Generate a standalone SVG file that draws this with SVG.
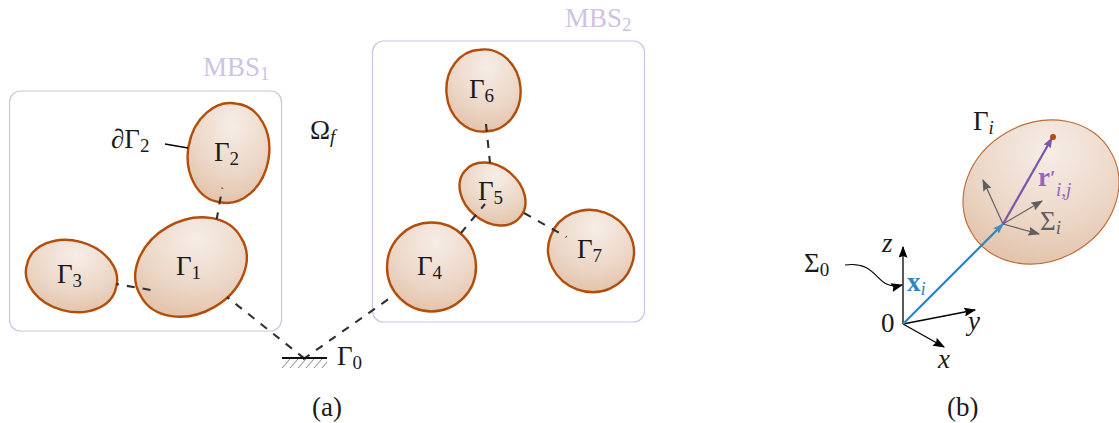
<svg xmlns="http://www.w3.org/2000/svg" width="1119" height="423" viewBox="0 0 1119 423">
<style>
text{font-family:"Liberation Serif","Times New Roman",serif;font-size:27px;fill:#1a1a1a}
.s{font-size:19px}
.i{font-style:italic}
.b{font-weight:bold}
.body{fill:url(#g);stroke:#b24d0a;stroke-width:2.4}
.box{fill:none;stroke:#cfc2e6;stroke-width:1.2}
.mbs{fill:#cfc2e6}
.d{fill:none;stroke:#2f2f2f;stroke-width:2.1;stroke-dasharray:8 8}
.k{stroke:#000;stroke-width:1.3;fill:none}
.gr{stroke:#5f5f5f;stroke-width:1.2;fill:none}
</style>
<defs>
<radialGradient id="g" cx="0.55" cy="0.22" r="0.8"><stop offset="0" stop-color="#f6ede7"/><stop offset="0.6" stop-color="#ecd7c7"/><stop offset="1" stop-color="#e3c3ab"/></radialGradient>
<marker id="ak" viewBox="0 0 10 10" refX="9" refY="5" markerWidth="12" markerHeight="9" markerUnits="userSpaceOnUse" orient="auto" preserveAspectRatio="none"><path d="M0 0L10 5L0 10L1.5 5Z" fill="#000"/></marker>
<marker id="ag" viewBox="0 0 10 10" refX="9" refY="5" markerWidth="12" markerHeight="9" markerUnits="userSpaceOnUse" orient="auto" preserveAspectRatio="none"><path d="M0 0L10 5L0 10L1.5 5Z" fill="#5f5f5f"/></marker>
<marker id="ab" viewBox="0 0 10 10" refX="9" refY="5" markerWidth="11" markerHeight="8" markerUnits="userSpaceOnUse" orient="auto" preserveAspectRatio="none"><path d="M0 0L10 5L0 10L1.5 5Z" fill="#3f8fc6"/></marker>
<marker id="ap" viewBox="0 0 10 10" refX="9" refY="5" markerWidth="11" markerHeight="8" markerUnits="userSpaceOnUse" orient="auto" preserveAspectRatio="none"><path d="M0 0L10 5L0 10L1.5 5Z" fill="#7d55a8"/></marker>
</defs>
<g id="mbs1"><rect class="box" x="9.5" y="91" width="272" height="240" rx="11"/><text class="mbs" x="203" y="76">MBS<tspan class="s mbs" dy="4">1</tspan></text></g>
<g id="mbs2"><rect class="box" x="372.5" y="41" width="272" height="281" rx="11"/><text class="mbs" x="565" y="27">MBS<tspan class="s mbs" dy="4">2</tspan></text></g>
<g id="gamma1"><path class="body" d="M140.8 296A58 45 -30 1 1 241.2 238A58 45 -30 1 1 140.8 296Z"/><text x="176" y="275">Γ<tspan class="s" dy="4">1</tspan></text></g>
<g id="gamma2"><path class="body" d="M219.8 202.2A50 39 -80 1 1 237.2 103.8A50 39 -80 1 1 219.8 202.2Z"/><text x="214" y="161">Γ<tspan class="s" dy="4">2</tspan></text></g>
<g id="gamma3"><path class="body" d="M27.1 264.1A46 34 15 1 1 115.9 287.9A46 34 15 1 1 27.1 264.1Z"/><text x="57" y="283">Γ<tspan class="s" dy="4">3</tspan></text></g>
<g id="gamma4"><circle class="body" cx="431.5" cy="267" r="44.5"/><text x="417" y="275">Γ<tspan class="s" dy="4">4</tspan></text></g>
<g id="gamma5"><path class="body" d="M464.9 170.9A36 27 40 1 1 520.1 217.1A36 27 40 1 1 464.9 170.9Z"/><text x="478" y="200">Γ<tspan class="s" dy="4">5</tspan></text></g>
<g id="gamma6"><path class="body" d="M479.9 49.7A41 35.5 85 1 1 487.1 131.3A41 35.5 85 1 1 479.9 49.7Z"/><text x="469" y="98">Γ<tspan class="s" dy="4">6</tspan></text></g>
<g id="gamma7"><path class="body" d="M550.6 236.3A43 40 20 1 1 631.4 265.7A43 40 20 1 1 550.6 236.3Z"/><text x="577" y="258">Γ<tspan class="s" dy="4">7</tspan></text></g>
<g id="connectors">
<path class="d" d="M222.3 187.7L216.7 219.3" stroke-dashoffset="7" style="stroke-dashoffset:7"/>
<path class="d" d="M116 284L151 290" style="stroke-dashoffset:5"/>
<path class="d" d="M227 297L305 359" style="stroke-dashoffset:5"/>
<path class="d" d="M303 359.4L390 298"/>
<path class="d" d="M486 124L490 163"/>
<path class="d" d="M485 204L461 233" style="stroke-dashoffset:2"/>
<path class="d" d="M524 213L566.5 237"/>
<path d="M165 144L188 148" stroke="#000" stroke-width="1.3"/>
</g>
<g id="ground"><path d="M282 358H327" stroke="#111" stroke-width="2.2"/><path d="M282 368L290 359M290 368L298 359M298 368L306 359M306 368L314 359M314 368L322 359M322 368L327 362" stroke="#888" stroke-width="1"/><text x="337" y="365">Γ<tspan class="s" dy="4">0</tspan></text></g>
<text x="111" y="148">∂Γ<tspan class="s" dy="4">2</tspan></text>
<text x="310" y="139">Ω<tspan class="s i" dy="4">f</tspan></text>
<text x="312" y="416">(a)</text>
<text x="947" y="416">(b)</text>
<g id="body-i"><path d="M971.3 232.25A80.5 67.5 -30 1 1 1110.7 151.75A80.5 67.5 -30 1 1 971.3 232.25Z" fill="url(#g)" stroke="#bb6a33" stroke-width="1.1"/><text x="973" y="130">Γ<tspan class="s i" dy="4">i</tspan></text></g>
<g id="frame-i">
<path class="gr" d="M1003 224L983 180" marker-end="url(#ag)"/>
<path class="gr" d="M1003 224L1042 201" marker-end="url(#ag)"/>
<path class="gr" d="M1003 224L1039 234" marker-end="url(#ag)"/>
<text x="1040" y="230" style="fill:#5f5f5f">Σ<tspan class="s i" dy="4" style="fill:#5f5f5f">i</tspan></text>
</g>
<g id="frame-0">
<path class="k" d="M903 324V247" marker-end="url(#ak)"/>
<path class="k" d="M903 324L975 310" marker-end="url(#ak)"/>
<path class="k" d="M903 324L944 347" marker-end="url(#ak)"/>
<path d="M845 265C880 260 875 292 902 285" fill="none" stroke="#000" stroke-width="1.1" marker-end="url(#ak)"/>
<text x="804" y="272">Σ<tspan class="s" dy="4">0</tspan></text>
<text x="881" y="332">0</text>
<text class="i" x="882" y="252">z</text>
<text class="i" x="968" y="330">y</text>
<text class="i" x="938" y="368">x</text>
</g>
<g id="vectors">
<path d="M903 324L1003 224" stroke="#2f86c1" stroke-width="2.2" fill="none" marker-end="url(#ab)"/>
<path d="M1003 224L1052 138" stroke="#7d55a8" stroke-width="2.2" fill="none" marker-end="url(#ap)"/>
<circle cx="1053" cy="137" r="3" fill="#b24d0a"/>
<text class="b" x="907" y="291" style="fill:#2f86c1">x<tspan class="s i" dy="4" style="font-weight:normal;fill:#2f86c1">i</tspan></text>
<text class="b" x="1038" y="186" style="fill:#9467bd">r<tspan dy="-1" style="font-size:20px;fill:#9467bd">′</tspan></text>
<text class="s i" x="1056" y="196" style="fill:#9467bd">i,j</text>
</g>
</svg>
